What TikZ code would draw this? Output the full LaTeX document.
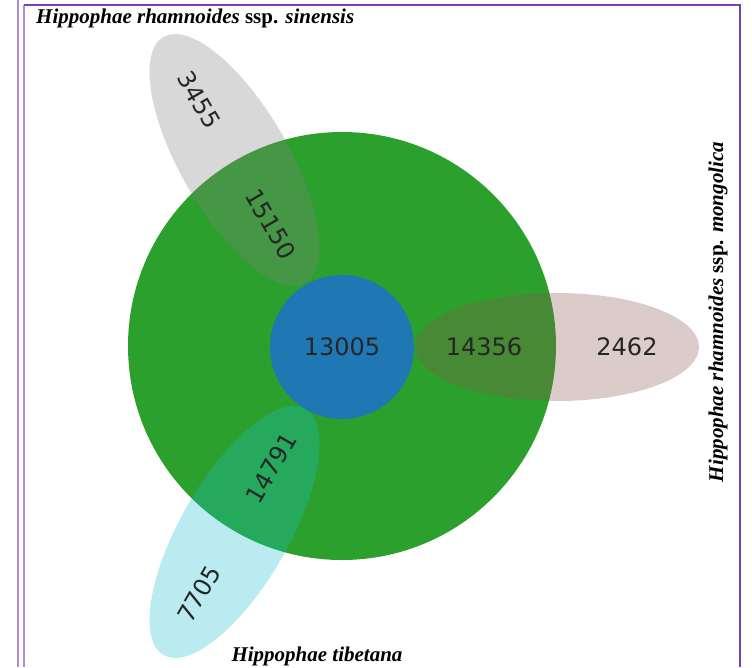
\documentclass[tikz,border=0pt]{standalone}
\usepackage{fontspec}
\setmainfont{Liberation Serif}
\newfontfamily\countfont{DejaVu Sans}
\usetikzlibrary{positioning}
\definecolor{tabgreen}{HTML}{2CA02C}
\definecolor{tabblue}{HTML}{1F77B4}
\definecolor{tabgray}{HTML}{7F7F7F}
\definecolor{tabbrown}{HTML}{8C564B}
\definecolor{tabcyan}{HTML}{17BECF}
\definecolor{framedark}{HTML}{7B3FB3}
\definecolor{framelight}{HTML}{B08AD8}
\tikzset{
    count/.style = {
        font=\countfont\fontsize{24}{24}\selectfont,
        text=black!85,
        inner sep=0pt
    },
    species/.style = {
        font=\fontsize{21}{21}\selectfont\bfseries\itshape,
        inner sep=0pt
    },
    petal/.style = {
        fill opacity=0.3
    },
    rim/.style = {
        line width=2pt
    },
}

\begin{document}
\begin{tikzpicture}[x=1pt,y=-1pt]
            \useasboundingbox (0,0) rectangle (752,667);
            \draw[rim, framelight] (17.5,0) -- (17.5,667);
            \draw[rim, framelight] (23.5,667) -- (23.5,4.5);
            \draw[rim, framedark] (23.5,4.5) -- (739.5,4.5) -- (739.5,667);

            \fill[tabgreen] (342,346) circle (214);
            \fill[petal, tabgray, rotate around={-60:(234.5,160)}] (234.5,160) ellipse [x radius=142, y radius=54];
            \fill[petal, tabbrown] (557,347) ellipse [x radius=142, y radius=54];
            \fill[petal, tabcyan, rotate around={60:(234.5,532)}] (234.5,532) ellipse [x radius=142, y radius=54];
            \fill[tabblue] (342,347) circle (72);

            \node[count] (core) at (342,347) {13005};
            \node[count] (mongshared) at (484,347) {14356};
            \node[count] (mongonly) at (627,347) {2462};
            \node[count, rotate=-60] (sinshared) at (271,224) {15150};
            \node[count, rotate=-60] (sinonly) at (199,100) {3455};
            \node[count, rotate=60] (tibshared) at (271,468) {14791};
            \node[count, rotate=60] (tibonly) at (199,594) {7705};

            \node[species, anchor=base west] (sinensis) at (36,23) {Hippophae rhamnoides {\upshape ssp.} sinensis};
            \node[species, rotate=90] (mongolica) at (718,312) {Hippophae rhamnoides {\upshape ssp.} mongolica};
            \node[species, anchor=base] (tibetana) at (317,661) {Hippophae tibetana};

        \end{tikzpicture}
\end{document}
